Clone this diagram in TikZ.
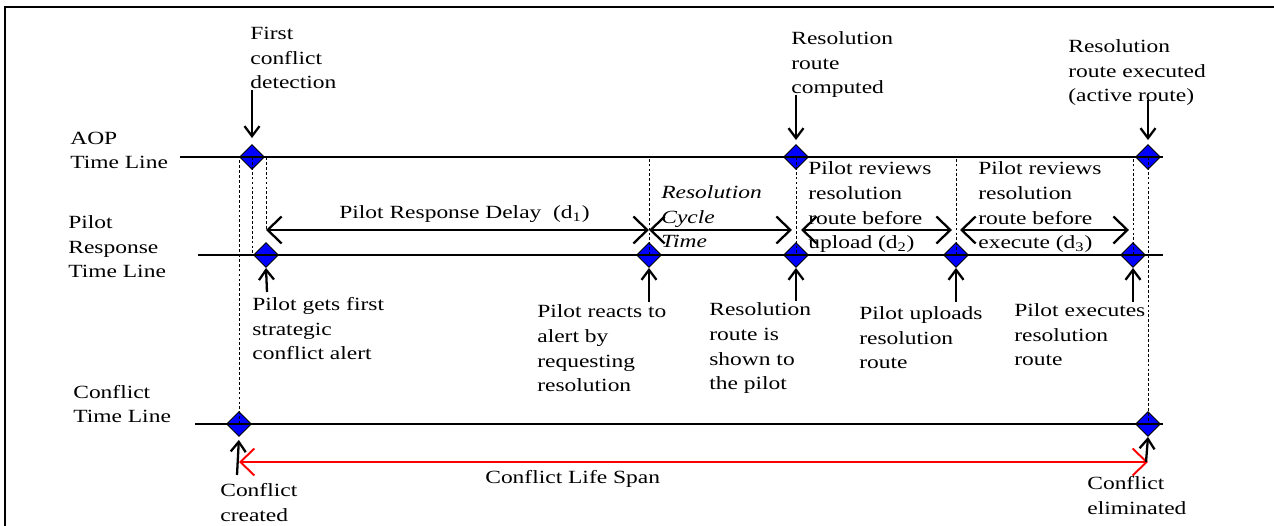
\documentclass[tikz,border=0pt]{standalone}
\usepackage{fontspec}
\setmainfont[FakeStretch=1.26]{Liberation Serif}
\usepackage{xcolor}
\usepackage{tikz}
\usetikzlibrary{positioning,shapes.geometric,arrows.meta}
\definecolor{MarkBlue}{RGB}{0,0,255}
\definecolor{SpanRed}{RGB}{255,0,0}
\newcommand{\notefont}{\fontsize{10.6}{14.2}\selectfont}
\tikzset{
    event/.style={diamond, draw=black, fill=MarkBlue, line width=0.5pt, minimum size=0.5cm, inner sep=0pt},
    tline/.style={draw=black, line width=0.7pt},
    guide/.style={draw=black, line width=0.4pt, dash pattern=on 1.6pt off 1.2pt},
    note/.style={anchor=base west, align=left, inner sep=0pt, font=\notefont},
    pointer/.style={draw=black, line width=1.3pt, -{Straight Barb[length=0.2cm, width=0.3cm]}},
    gap/.style={draw=black, line width=1.3pt, {Straight Barb[length=0.28cm, width=0.54cm]}-{Straight Barb[length=0.28cm, width=0.54cm]}}
}

\begin{document}
\begin{tikzpicture}[
                x=0.02cm, y=-0.02cm,
                life/.style={gap, draw=SpanRed, line width=1.1pt}
            ]
                \useasboundingbox (0,0) rectangle (1274,526);
                \draw[line width=0.9pt] (5,540) -- (5,7) -- (1290,7);

                % events on the three time lines
                \node[event] (aopA) at (252,157) {};
                \node[event] (aopB) at (796,157) {};
                \node[event] (aopC) at (1148,157) {};
                \node[event] (prA) at (266,255) {};
                \node[event] (prB) at (649,255) {};
                \node[event] (prC) at (796,255) {};
                \node[event] (prD) at (956,255) {};
                \node[event] (prE) at (1133,255) {};
                \node[event] (cfA) at (239,424) {};
                \node[event] (cfB) at (1148,424) {};

                \coordinate (aopS) at (180,157);
                \coordinate (aopE) at (1163,157);
                \coordinate (prS) at (198,255);
                \coordinate (prEnd) at (1163,255);
                \coordinate (cfS) at (195,424);
                \coordinate (cfE) at (1163,424);
                \draw[tline] (aopS) -- (aopE);
                \draw[tline] (prS) -- (prEnd);
                \draw[tline] (cfS) -- (cfE);

                \draw[guide] (cfA.center) -- (cfA |- aopA);
                \draw[guide] (aopA.center) -- (aopA |- prA);
                \draw[guide] (prA |- aopA) -- (prA |- 0,230);
                \draw[guide] (prB.center) -- (prB |- aopA);
                \draw[guide] (aopB.center) -- (prC.center);
                \draw[guide] (prD.center) -- (prD |- aopA);
                \draw[guide] (prE.center) -- (prE |- aopA);
                \draw[guide] (aopC.center) -- (cfB.center);

                % row titles
                \node[note] (aopT) at (70,169) {AOP\\Time Line};
                \node[note] (prT) at (68,278) {Pilot\\Response\\Time Line};
                \node[note] (cfT) at (73,423) {Conflict\\Time Line};

                % notes above
                \node[note] (detect) at (250,89) {First\\conflict\\detection};
                \node[note] (computed) at (791,94) {Resolution\\route\\computed};
                \node[note] (executed) at (1068,102) {Resolution\\route executed\\(active route)};
                \coordinate (detectP) at (252,90);
                \coordinate (computedP) at (796,95);
                \coordinate (executedP) at (1148,100);
                \draw[pointer, shorten >=0.12cm] (detectP) -- (aopA.north);
                \draw[pointer, shorten >=0.08cm] (computedP) -- (aopB.north);
                \draw[pointer, shorten >=0.08cm] (executedP) -- (aopC.north);

                % notes below
                \node[note] (alert) at (252,360) {Pilot gets first\\strategic\\conflict alert};
                \node[note] (reacts) at (537,392) {Pilot reacts to\\alert by\\requesting\\resolution};
                \node[note] (shown) at (709,390) {Resolution\\route is\\shown to\\the pilot};
                \node[note] (uploads) at (859,369) {Pilot uploads\\resolution\\route};
                \node[note] (executes) at (1014,366) {Pilot executes\\resolution\\route};
                \coordinate (alertP) at (267,292);
                \coordinate (reactsP) at (649,302);
                \coordinate (shownP) at (796,301);
                \coordinate (uploadsP) at (956,302);
                \coordinate (executesP) at (1133,302);
                \draw[pointer] (alertP) -- (prA.south);
                \draw[pointer] (reactsP) -- (prB.south);
                \draw[pointer] (shownP) -- (prC.south);
                \draw[pointer] (uploadsP) -- (prD.south);
                \draw[pointer] (executesP) -- (prE.south);

                % delays between the events
                \draw[gap] (prA |- 0,230) -- (prB |- 0,230);
                \draw[gap, shorten >=0.08cm] (prB |- 0,230) -- (prC |- 0,230);
                \draw[gap, shorten <=0.1cm, shorten >=0.08cm] (prC |- 0,230) -- (prD |- 0,230);
                \draw[gap, shorten <=0.08cm, shorten >=0.08cm] (prD |- 0,230) -- (prE |- 0,230);
                \node[note] (delay) at (339,219) {Pilot Response Delay\ \ (d\textsubscript{1})};
                \node[note, font=\notefont\itshape] (cycle) at (661,248) {Resolution\\Cycle\\Time};
                \node[note] (reviewUp) at (808,249) {Pilot reviews\\resolution\\route before\\upload (d\textsubscript{2})};
                \node[note] (reviewEx) at (978,249) {Pilot reviews\\resolution\\route before\\execute (d\textsubscript{3})};

                % conflict life span
                \draw[life] (cfA |- 0,462) -- (cfB |- 0,462);
                \node[note] (span) at (485,483) {Conflict Life Span};
                \node[note] (created) at (220,521) {Conflict\\created};
                \node[note] (elim) at (1087,514) {Conflict\\eliminated};
                \coordinate (createdP) at (237,475);
                \coordinate (elimP) at (1146,462);
                \draw[pointer, shorten >=0.06cm] (createdP) -- (cfA.south);
                \draw[pointer] (elimP) -- (cfB.south);
            \end{tikzpicture}
\end{document}
